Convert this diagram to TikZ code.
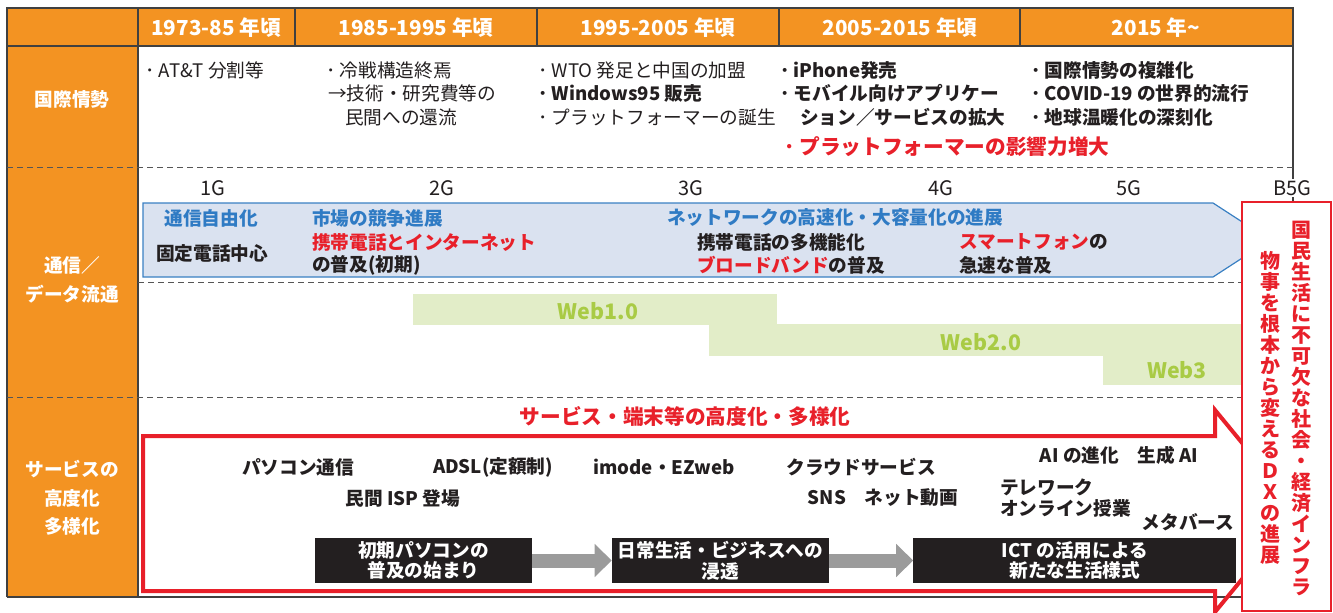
\documentclass[tikz,border=0pt]{standalone}
\usepackage{fontspec}
\setmainfont{Noto Sans CJK JP}
\usetikzlibrary{arrows.meta}
\definecolor{orng}{HTML}{F39322}
\definecolor{redc}{HTML}{E8202A}
\definecolor{bluet}{HTML}{2F7BC4}
\definecolor{bluef}{HTML}{DAE2F0}
\definecolor{blueb}{HTML}{3A80C3}
\definecolor{greenf}{HTML}{E2EDC8}
\definecolor{greent}{HTML}{A9CB45}
\definecolor{dark}{HTML}{231F20}
\definecolor{framec}{HTML}{404040}
\definecolor{arrowg}{HTML}{9B9B9B}
\definecolor{dashc}{HTML}{555555}
\tikzset{
  frm/.style={draw=framec, line width=0.8pt},
  dsh/.style={draw=dashc, line width=0.75pt, dash pattern=on 4.5pt off 3pt},
  txt/.style={inner sep=0pt, text=dark, font=\fontsize{14}{17}\selectfont},
  btxt/.style={inner sep=0pt, text=dark, font=\bfseries\fontsize{14}{17}\selectfont},
  rtxt/.style={inner sep=0pt, text=redc, font=\bfseries\fontsize{15.5}{18}\selectfont},
  rtxtb/.style={inner sep=0pt, text=redc, font=\bfseries\fontsize{14}{17}\selectfont},
  bltxt/.style={inner sep=0pt, text=bluet, font=\bfseries\fontsize{14}{17}\selectfont},
  hdr/.style={inner sep=0pt, text=white, font=\bfseries\fontsize{15.5}{18}\selectfont},
  lbl/.style={inner sep=0pt, text=white, align=center, font=\bfseries\fontsize{14}{21.5}\selectfont},
  gen/.style={inner sep=1pt, text=dark, font=\fontsize{15}{18}\selectfont},
  webt/.style={inner sep=0pt, text=greent, font=\bfseries\fontsize{16}{18}\selectfont},
  blk/.style={fill=dark, text=white, inner sep=0pt, align=center, minimum height=33.75pt,
    font=\bfseries\fontsize{14}{15.5}\selectfont},
  garrow/.style={draw=arrowg, line width=10.5pt, -{Triangle[length=12.75pt, width=24pt]}},
  vt/.style={inner sep=0pt, text=redc, align=center, font=\bfseries\fontsize{15}{15.75}\selectfont},
}
\begin{document}
\begin{tikzpicture}[x=0.75pt,y=-0.75pt]
\useasboundingbox (0,0) rectangle (1333,613);
% backgrounds
\fill[orng] (7,8) rectangle (1293,46);
\fill[orng] (7,46) rectangle (138,597);
% frame
\draw[frm] (7,597) -- (7,8) -- (1293,8) -- (1293,202);
\draw[frm] (7,46) -- (1293,46);
\draw[frm] (138,8) -- (138,597);
\foreach \x in {295,537,779,1020} \draw[frm] (\x,8) -- (\x,46);
\draw[frm] (7,597) -- (1242,597);
% dashed separators
\draw[dsh] (7,167) -- (1293,167);
\draw[dsh] (138,282) -- (1242,282);
\draw[dsh] (7,397) -- (1242,397);
% header
\node[hdr] (h1) at (216,28) {1973-85 年頃};
\node[hdr] (h2) at (416,28) {1985-1995 年頃};
\node[hdr] (h3) at (658,28) {1995-2005 年頃};
\node[hdr] (h4) at (900,28) {2005-2015 年頃};
\node[hdr] (h5) at (1156,28) {2015 年\textasciitilde};
% left labels
\node[lbl] (L1) at (72,99) {国際情勢};
\node[lbl] (L2) at (72,280) {通信／\\データ流通};
\node[lbl, font=\bfseries\fontsize{14}{21.4}\selectfont] (L3) at (72,498) {サービスの\\高度化\\多様化};
% row 1
\node[txt, anchor=west] (a1) at (145,70) {･ AT\&T 分割等};
\node[txt, anchor=west] (b1) at (326,70) {･ 冷戦構造終焉};
\node[txt, anchor=west] (b2) at (328,93) {→技術・研究費等の};
\node[txt, anchor=west] (b3) at (345,117) {民間への還流};
\node[txt, anchor=west] (c1) at (538,70) {･ WTO 発足と中国の加盟};
\node[btxt, anchor=west] (c2) at (538,93) {･ Windows95 販売};
\node[txt, anchor=west] (c3) at (538,117) {･ プラットフォーマーの誕生};
\node[btxt, anchor=west] (d1) at (780,70) {･ iPhone発売};
\node[btxt, anchor=west] (d2) at (780,93) {･ モバイル向けアプリケー};
\node[btxt, anchor=west] (d3) at (800,117) {ション／サービスの拡大};
\node[rtxt, anchor=west] (d4) at (784,147) {･ プラットフォーマーの影響力増大};
\node[btxt, anchor=west] (e1) at (1031,70) {･ 国際情勢の複雑化};
\node[btxt, anchor=west] (e2) at (1031,93) {･ COVID-19 の世界的流行};
\node[btxt, anchor=west] (e3) at (1031,117) {･ 地球温暖化の深刻化};
% generations
\node[gen] (g1) at (213,188) {1G};
\node[gen] (g2) at (442,188) {2G};
\node[gen] (g3) at (691,188) {3G};
\node[gen] (g4) at (941,188) {4G};
\node[gen] (g5) at (1129,188) {5G};
% blue band
\draw[fill=bluef, draw=blueb, line width=0.9pt] (143,203) -- (1213,203) -- (1270,240) -- (1213,277) -- (143,277) -- cycle;
\node[bltxt] (t1) at (211,218) {通信自由化};
\node[btxt] (t2) at (212,253) {固定電話中心};
\node[bltxt, anchor=west] (t3) at (312,218) {市場の競争進展};
\node[rtxtb, anchor=west] (t4) at (312,242) {携帯電話とインターネット};
\node[btxt, anchor=west] (t5) at (312,265) {の普及(初期)};
\node[bltxt, anchor=west] (t6) at (667,217) {ネットワークの高速化・大容量化の進展};
\node[btxt, anchor=west] (t7) at (697,242) {携帯電話の多機能化};
\node[btxt, anchor=west] (t8) at (697,265) {\textcolor{redc}{ブロードバンド}の普及};
\node[btxt, anchor=west] (t9) at (959,242) {\textcolor{redc}{スマートフォン}の};
\node[btxt, anchor=west] (t10) at (959,265) {急速な普及};
% web bars
\fill[greenf] (413,294) rectangle (777,324.5);
\fill[greenf] (709,324) rectangle (1242,355.5);
\fill[greenf] (1103,355) rectangle (1242,385);
\node[webt] (w1) at (598,311) {Web1.0};
\node[webt] (w2) at (981,342) {Web2.0};
\node[webt] (w3) at (1177,370) {Web3};
% services
\node[rtxt] (svt) at (685,416) {サービス・端末等の高度化・多様化};
\draw[draw=redc, line width=3pt, line join=miter] (143,436) -- (1215,436) -- (1215,410) -- (1298,511) -- (1215,612) -- (1215,591) -- (143,591) -- cycle;
\node[btxt] (s1) at (298,467) {パソコン通信};
\node[btxt] (s2) at (493,467) {ADSL(定額制)};
\node[btxt] (s3) at (664,467) {imode・EZweb};
\node[btxt] (s4) at (861,467) {クラウドサービス};
\node[btxt] (s5) at (403,498) {民間 ISP 登場};
\node[btxt] (s6) at (883,498) {SNS　ネット動画};
\node[btxt] (s7) at (1119,455) {AI の進化　生成 AI};
\node[btxt, anchor=west] (s8) at (1000,487) {テレワーク};
\node[btxt, anchor=west] (s9) at (1000,508) {オンライン授業};
\node[btxt] (s10) at (1188,522) {メタバース};
\node[blk, minimum width=162.75pt] (k1) at (423.5,560.5) {初期パソコンの\\普及の始まり};
\node[blk, minimum width=162.75pt] (k2) at (720.5,560.5) {日常生活・ビジネスへの\\浸透};
\node[blk, minimum width=241.9pt] (k3) at (1074.75,560.5) {ICT の活用による\\新たな生活様式};
\draw[garrow] (k1.east) -- (k2.west);
\draw[garrow] (k2.east) -- (k3.west);
% right red box
\draw[draw=redc, fill=white, line width=1.8pt] (1242,202) rectangle (1331,611);
\node[vt] (v1) at (1301,408.5) {国\\民\\生\\活\\に\\不\\可\\欠\\な\\社\\会\\・\\経\\済\\イ\\ン\\フ\\ラ};
\node[vt] (v2) at (1270,407.5) {物\\事\\を\\根\\本\\か\\ら\\変\\え\\る\\Ｄ\\Ｘ\\の\\進\\展};
\node[gen, fill=white] (g6) at (1292,188) {B5G};
\end{tikzpicture}
\end{document}
